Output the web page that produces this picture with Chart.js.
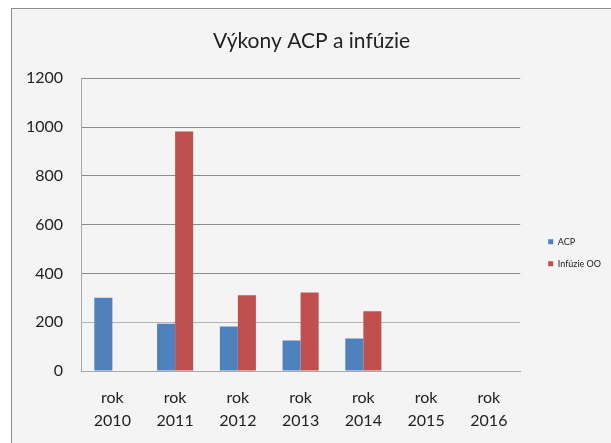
<!DOCTYPE html>
<html>
<head>
<meta charset="utf-8">
<script src="https://cdn.jsdelivr.net/npm/chart.js@4/dist/chart.umd.min.js"></script>
<style>
    html, body { margin: 0; padding: 0; background: #fff; overflow: hidden; }
    #frame {
        position: absolute; left: 11px; top: 8px; width: 700px; height: 500px;
        background: #f4f4f4; border: 1px solid #8c8c8c;
    }
    #chart { position: absolute; left: 0; top: 0; }
</style>
</head>
<body>
<div id="frame"></div>
<canvas id="chart" width="611" height="443"></canvas>
<script>
// Data
const categories = [['rok', '2010'], ['rok', '2011'], ['rok', '2012'], ['rok', '2013'], ['rok', '2014'], ['rok', '2015'], ['rok', '2016']];
const acpValues = [300, 194, 182, 125, 133, null, null];
const infuzieValues = [null, 982, 310, 322, 245, null, null];
const yTicks = [0, 200, 400, 600, 800, 1000, 1200];

const FONT = 'Lato, "Liberation Sans", sans-serif';

new Chart(document.getElementById('chart'), {
    type: 'bar',
    data: {
        labels: categories,
        datasets: [
            {
                label: 'ACP',
                data: acpValues,
                backgroundColor: '#4f81bd',
                categoryPercentage: 0.575,
                barPercentage: 1
            },
            {
                label: 'Infúzie OO',
                data: infuzieValues,
                backgroundColor: '#c0504d',
                categoryPercentage: 0.575,
                barPercentage: 1
            }
        ]
    },
    options: {
        responsive: false,
        animation: false,
        // left padding keeps the title centred on the frame, not the page
        layout: { padding: { left: 12, right: 0, top: 0, bottom: 0 } },
        plugins: {
            title: {
                display: true,
                text: 'Výkony ACP a infúzie',
                color: '#222',
                font: { family: FONT, size: 21, weight: 'normal', lineHeight: 1.2 },
                padding: { top: 29, bottom: 24 }
            },
            legend: {
                position: 'right',
                align: 'center',
                title: { display: true, text: '', padding: { top: 48, bottom: 0 } },
                labels: {
                    boxWidth: 5,
                    boxHeight: 5,
                    padding: 13,
                    color: '#222',
                    font: { family: FONT, size: 9 }
                }
            },
            tooltip: { enabled: false }
        },
        scales: {
            x: {
                grid: { display: false },
                border: { color: '#a8a8a8' },
                ticks: {
                    color: '#222',
                    padding: 8,
                    maxRotation: 0,
                    font: { family: FONT, size: 16, lineHeight: 1.4 }
                },
                afterFit: scale => { scale.height = 72; }
            },
            y: {
                min: 0,
                max: 1200,
                afterBuildTicks: scale => { scale.ticks = yTicks.map(v => ({ value: v })); },
                grid: {
                    drawTicks: false,
                    color: ctx => (ctx.tick && ctx.tick.value === 200) ? '#b4b4b4' : '#8c8c8c'
                },
                border: { color: '#a8a8a8' },
                ticks: {
                    color: '#222',
                    padding: 18,
                    font: { family: FONT, size: 16 },
                    callback: value => String(value)
                },
                afterFit: scale => { scale.width = 69; }
            },
            // empty spacer between plot and legend
            gap: {
                position: 'right',
                display: true,
                grid: { display: false },
                border: { display: false },
                ticks: { display: false },
                afterFit: scale => { scale.width = 15; }
            }
        }
    }
});
</script>
</body>
</html>
